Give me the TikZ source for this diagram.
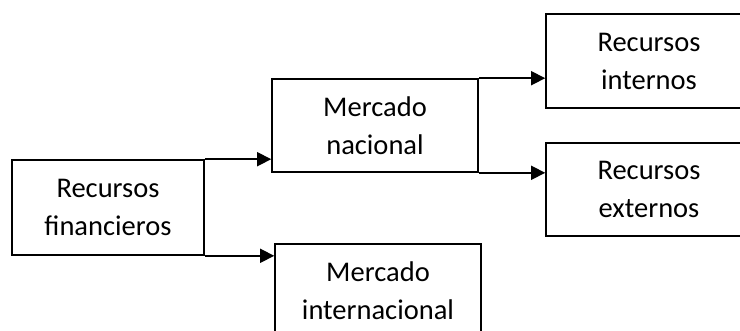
\documentclass[tikz,border=0pt]{standalone}
\usepackage{fontspec}
\setmainfont{Carlito}
\usetikzlibrary{arrows.meta}
\begin{document}
\begin{tikzpicture}[x=1pt,y=-1pt,
  box/.style={draw, line width=1.6pt, rectangle, inner sep=0pt, align=center,
    font=\fontsize{28.5}{38}\selectfont},
  arr/.style={line width=1.6pt, -{Triangle[length=14pt,width=14pt]}}]
\useasboundingbox (0,0) rectangle (740,330);
\clip (0,0) rectangle (740,330);
\node[box, minimum width=192pt, minimum height=95pt] (b1) at (108,207.5) {Recursos\\financieros};
\node[box, minimum width=206pt, minimum height=93pt] (b2) at (375,125.5) {Mercado\\nacional};
\node[box, minimum width=206pt, minimum height=94pt] (b3) at (649,61) {Recursos\\internos};
\node[box, minimum width=206pt, minimum height=93pt] (b4) at (649,189.5) {Recursos\\externos};
\node[box, minimum width=206pt, minimum height=93pt] (b5) at (378,290.5) {Mercado\\internacional};
\draw[arr] (b1.north east) -- (b1.north east -| b2.west);
\draw[arr] (b1.south east) -- (b1.south east -| b5.west);
\draw[arr] (b2.north east) -- (b2.north east -| b3.west);
\draw[arr] (b2.south east) -- (b2.south east -| b4.west);
\end{tikzpicture}
\end{document}
